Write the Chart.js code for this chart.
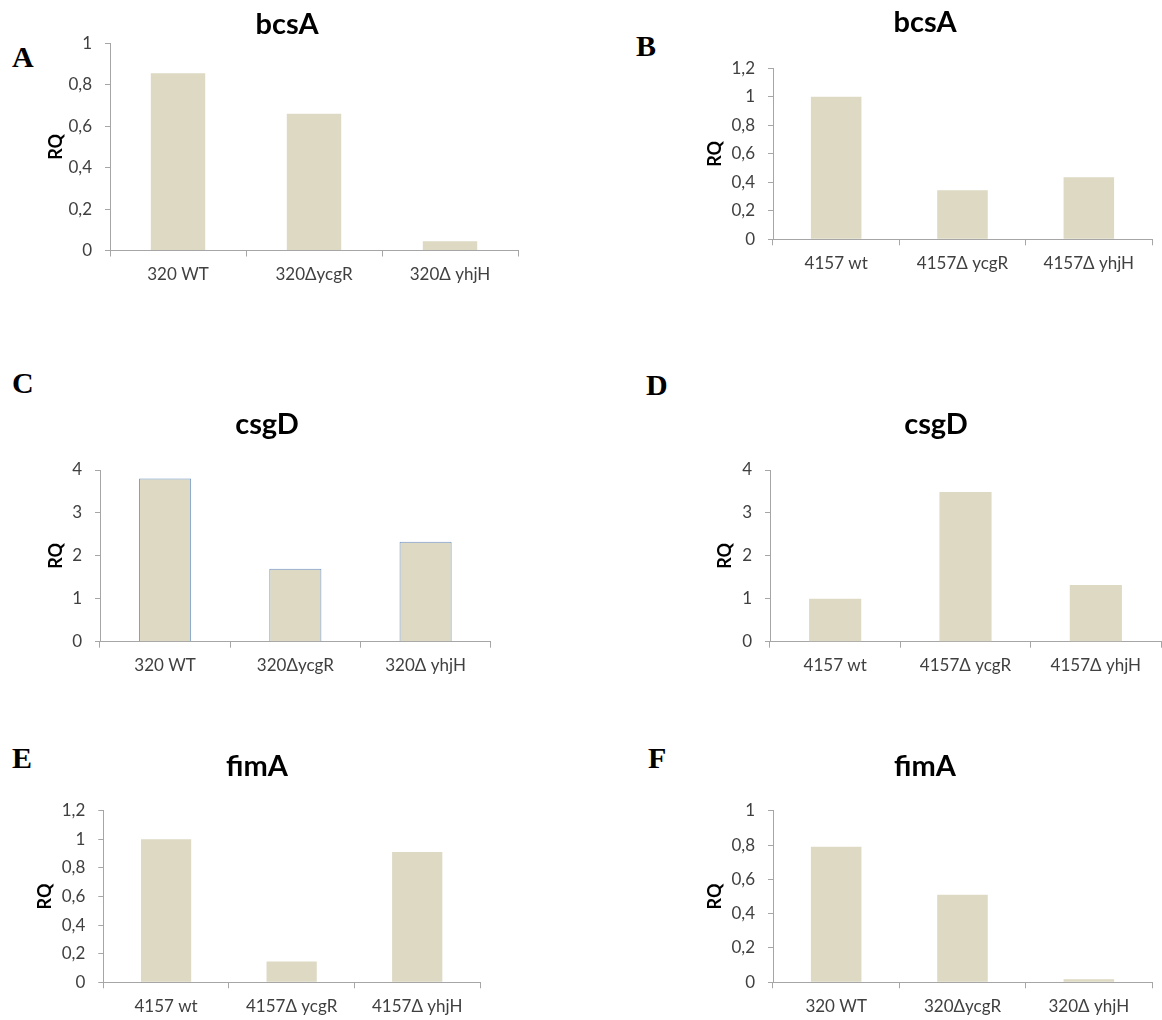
<!DOCTYPE html>
<html><head><meta charset="utf-8">
<script src="https://cdn.jsdelivr.net/npm/chart.js@4.4.1/dist/chart.umd.min.js"></script>
<style>
html,body{margin:0;padding:0;background:#fff;}
body{width:1162px;height:1020px;position:relative;overflow:hidden;}
canvas{position:absolute;}
.lbl{position:absolute;font-family:"Liberation Serif","Times New Roman",serif;font-weight:bold;font-size:30px;line-height:30px;color:#000;}
</style></head><body>
<div class="lbl" style="left:12px;top:42px">A</div>
<div class="lbl" style="left:636px;top:31px">B</div>
<div class="lbl" style="left:646px;top:370px">D</div>
<div class="lbl" style="left:12px;top:368px">C</div>
<div class="lbl" style="left:12px;top:743px">E</div>
<div class="lbl" style="left:648px;top:743px">F</div>
<script>
// ---- data ----
const strains320 = ['320 WT', '320\u0394ycgR', '320\u0394 yhjH'];
const strains4157 = ['4157 wt', '4157\u0394 ycgR', '4157\u0394 yhjH'];
const bcsA320 = [0.855, 0.66, 0.045];
const bcsA4157 = [1.0, 0.345, 0.435];
const csgD320 = [3.8, 1.7, 2.33];
const csgD4157 = [1.0, 3.49, 1.32];
const fimA4157 = [1.0, 0.145, 0.912];
const fimA320 = [0.79, 0.51, 0.018];
const axisMaxA = 1, axisMaxB = 1.2, axisMaxC = 4, axisMaxD = 4, axisMaxE = 1.2, axisMaxF = 1;
const stepA = 0.2, stepB = 0.2, stepC = 1, stepD = 1, stepE = 0.2, stepF = 0.2;
const titleA = 'bcsA', titleB = 'bcsA', titleC = 'csgD', titleD = 'csgD', titleE = 'fimA', titleF = 'fimA';
const yAxisTitle = 'RQ';

// ---- layout (page pixel geometry) ----
const panels = [
  {id:'A', title:titleA, labels:strains320, values:bcsA320, max:axisMaxA, step:stepA, L:110, R:518, T:43.3, B:250.5, tc:287, tb:35, rqx:56.5, border:false},
  {id:'B', title:titleB, labels:strains4157, values:bcsA4157, max:axisMaxB, step:stepB, L:773, R:1152, T:68.3, B:239.3, tc:925, tb:33, rqx:715, border:false},
  {id:'C', title:titleC, labels:strains320, values:csgD320, max:axisMaxC, step:stepC, L:100, R:490.7, T:470, B:641.7, tc:267, tb:435, rqx:56, border:true},
  {id:'D', title:titleD, labels:strains4157, values:csgD4157, max:axisMaxD, step:stepD, L:770, R:1161, T:470, B:641.7, tc:936, tb:435, rqx:725, border:false},
  {id:'E', title:titleE, labels:strains4157, values:fimA4157, max:axisMaxE, step:stepE, L:103.3, R:480, T:810.7, B:982.3, tc:257, tb:777, rqx:45, border:false},
  {id:'F', title:titleF, labels:strains320, values:fimA320, max:axisMaxF, step:stepF, L:773, R:1152, T:810.7, B:982.3, tc:925, tb:777, rqx:715, border:false}
];

const FONT = 'Lato, "Open Sans", sans-serif';
const axisColor = '#a6a6a6';
const textColor = '#404040';
const barFill = '#ddd9c3';
const barEdge = '#6b93c8';

function fmt(v){ const r = Math.round(v*10)/10; return String(r).replace('.', ','); }

function makePanel(p){
  const fs = 29, tlh = fs*1.2, k = 0.37;
  const titleTop = p.tb - k*fs - tlh/2;
  const yW = p.L + p.R - 2*p.tc;
  const axisLeft = p.L - yW;
  const cl = Math.floor(Math.min(axisLeft, p.rqx - 14)) - 2;
  const ct = Math.floor(titleTop) - 2;
  const xH = 42;
  const cw = Math.ceil(p.R + 8 - cl);
  const ch = Math.ceil(p.B + xH + 4 - ct);
  const padL = axisLeft - cl;
  const padR = cl + cw - p.R;
  const padT = titleTop - ct;
  const padB = ct + ch - p.B - xH;
  const titlePadBottom = p.T - titleTop - tlh;
  const rqLH = 18*1.2;
  const rqPadTop = (p.rqx - axisLeft) - rqLH/2;

  const c = document.createElement('canvas');
  c.width = cw; c.height = ch;
  c.style.left = cl + 'px'; c.style.top = ct + 'px';
  c.style.width = cw + 'px'; c.style.height = ch + 'px';
  document.body.appendChild(c);

  new Chart(c, {
    type: 'bar',
    data: {
      labels: p.labels,
      datasets: [{
        data: p.values,
        backgroundColor: barFill,
        borderColor: barEdge,
        borderWidth: p.border ? 1 : 0,
        barPercentage: 0.4,
        categoryPercentage: 1.0
      }]
    },
    options: {
      responsive: false,
      animation: false,
      devicePixelRatio: 1,
      layout: {padding: {left: padL, right: padR, top: padT, bottom: padB}},
      plugins: {
        legend: {display: false},
        tooltip: {enabled: false},
        title: {display: true, text: p.title, color: '#000',
                font: {family: FONT, weight: 'bold', size: fs, lineHeight: 1.2},
                padding: {top: 0, bottom: titlePadBottom}}
      },
      scales: {
        x: {
          offset: true,
          grid: {display: true, offset: true, drawOnChartArea: false, drawTicks: true, tickLength: 6, color: axisColor},
          border: {display: true, color: axisColor, width: 1},
          ticks: {color: textColor, font: {family: FONT, size: 17}, padding: 8, maxRotation: 0, autoSkip: false},
          afterFit: s => { s.height = xH; }
        },
        y: {
          min: 0, max: p.max,
          ticks: {stepSize: p.step, color: textColor, font: {family: FONT, size: 17}, padding: 13, callback: v => fmt(v)},
          grid: {display: true, drawOnChartArea: false, drawTicks: true, tickLength: 5, color: axisColor},
          border: {display: true, color: axisColor, width: 1},
          title: {display: true, text: yAxisTitle, color: '#000',
                  font: {family: FONT, weight: 'bold', size: 18, lineHeight: 1.2},
                  padding: {top: rqPadTop, bottom: 0}},
          afterFit: s => { s.width = yW; }
        }
      }
    }
  });
}
panels.forEach(makePanel);
</script>
</body></html>
